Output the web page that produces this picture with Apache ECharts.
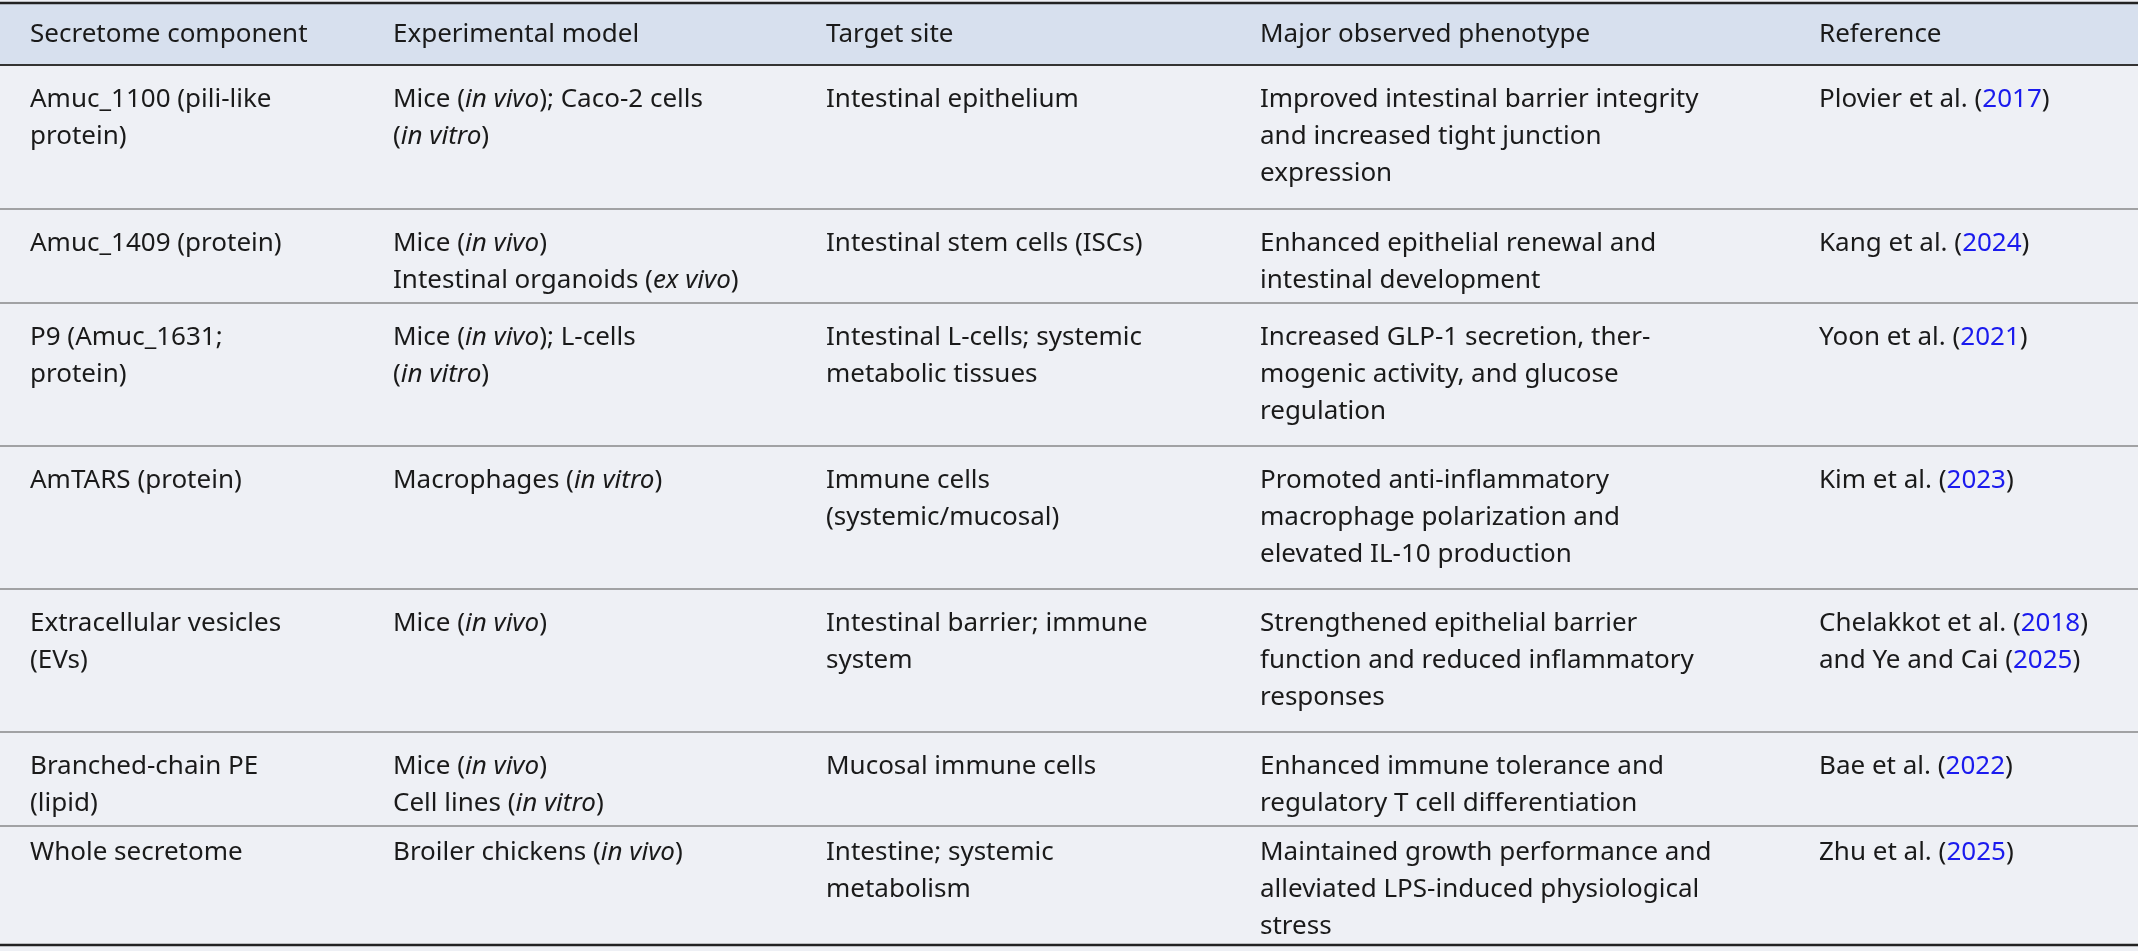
<!DOCTYPE html>
<html>
<head>
<meta charset="utf-8">
<script src="https://cdn.jsdelivr.net/npm/echarts@6/dist/echarts.min.js"></script>
<style>
  html, body { margin: 0; padding: 0; background: #eef0f5; }
  #main { width: 2138px; height: 951px; }
</style>
</head>
<body>
<div id="main"></div>
<script>
// table content, {i|..} = italic, {y|..} = linked year
const headers = ['Secretome component', 'Experimental model', 'Target site', 'Major observed phenotype', 'Reference']
const components = [
  'Amuc_1100 (pili-like\nprotein)',
  'Amuc_1409 (protein)',
  'P9 (Amuc_1631;\nprotein)',
  'AmTARS (protein)',
  'Extracellular vesicles\n(EVs)',
  'Branched-chain PE\n(lipid)',
  'Whole secretome'
]
const models = [
  'Mice ({i|in vivo}); Caco-2 cells\n({i|in vitro})',
  'Mice ({i|in vivo})\nIntestinal organoids ({i|ex vivo})',
  'Mice ({i|in vivo}); L-cells\n({i|in vitro})',
  'Macrophages ({i|in vitro})',
  'Mice ({i|in vivo})',
  'Mice ({i|in vivo})\nCell lines ({i|in vitro})',
  'Broiler chickens ({i|in vivo})'
]
const targets = [
  'Intestinal epithelium',
  'Intestinal stem cells (ISCs)',
  'Intestinal L-cells; systemic\nmetabolic tissues',
  'Immune cells\n(systemic/mucosal)',
  'Intestinal barrier; immune\nsystem',
  'Mucosal immune cells',
  'Intestine; systemic\nmetabolism'
]
const phenotypes = [
  'Improved intestinal barrier integrity\nand increased tight junction\nexpression',
  'Enhanced epithelial renewal and\nintestinal development',
  'Increased GLP-1 secretion, ther-\nmogenic activity, and glucose\nregulation',
  'Promoted anti-inflammatory\nmacrophage polarization and\nelevated IL-10 production',
  'Strengthened epithelial barrier\nfunction and reduced inflammatory\nresponses',
  'Enhanced immune tolerance and\nregulatory T cell differentiation',
  'Maintained growth performance and\nalleviated LPS-induced physiological\nstress'
]
const references = [
  'Plovier et al. ({y|2017})',
  'Kang et al. ({y|2024})',
  'Yoon et al. ({y|2021})',
  'Kim et al. ({y|2023})',
  'Chelakkot et al. ({y|2018})\nand Ye and Cai ({y|2025})',
  'Bae et al. ({y|2022})',
  'Zhu et al. ({y|2025})'
]

const colX = [30, 393, 826, 1260, 1819]
const rowY = [65, 209, 303, 446, 589, 732, 826, 945]
const W = 2138
const lineH = 37
const fontSize = 26
const font = '"Noto Sans", sans-serif'

const chart = echarts.init(document.getElementById('main'))
const elements = []

const rich = {
  i: { fontStyle: 'italic', fontSize: fontSize, fontFamily: font, fill: '#1a1a1a', lineHeight: lineH },
  y: { fontSize: fontSize, fontFamily: font, fill: '#1a1aee', lineHeight: lineH }
}

function cell(x, y, text) {
  elements.push({
    type: 'text', x: x, y: y,
    style: { text: text, fill: '#1a1a1a', fontSize: fontSize, fontFamily: font, lineHeight: lineH, rich: rich }
  })
}

// header band
elements.push({ type: 'rect', shape: { x: 0, y: 3, width: W, height: rowY[0] - 3 }, style: { fill: '#d7e0ee' } })
headers.forEach((h, j) => cell(colX[j], 16, h))

const cols = [components, models, targets, phenotypes, references]
for (let r = 0; r < components.length; r++) {
  const pad = r === components.length - 1 ? 8 : 16
  cols.forEach((c, j) => cell(colX[j], rowY[r] + pad, c[r]))
  if (r > 0) {
    elements.push({ type: 'line', shape: { x1: 0, y1: rowY[r], x2: W, y2: rowY[r] }, style: { stroke: '#555', lineWidth: 1.2 } })
  }
}
// rules
elements.push({ type: 'line', shape: { x1: 0, y1: 3, x2: W, y2: 3 }, style: { stroke: '#222', lineWidth: 2.5 } })
elements.push({ type: 'line', shape: { x1: 0, y1: rowY[0], x2: W, y2: rowY[0] }, style: { stroke: '#333', lineWidth: 2 } })
elements.push({ type: 'line', shape: { x1: 0, y1: rowY[7], x2: W, y2: rowY[7] }, style: { stroke: '#222', lineWidth: 2.5 } })

chart.setOption({ backgroundColor: '#eef0f5', graphic: { elements: elements } })
</script>
</body>
</html>
